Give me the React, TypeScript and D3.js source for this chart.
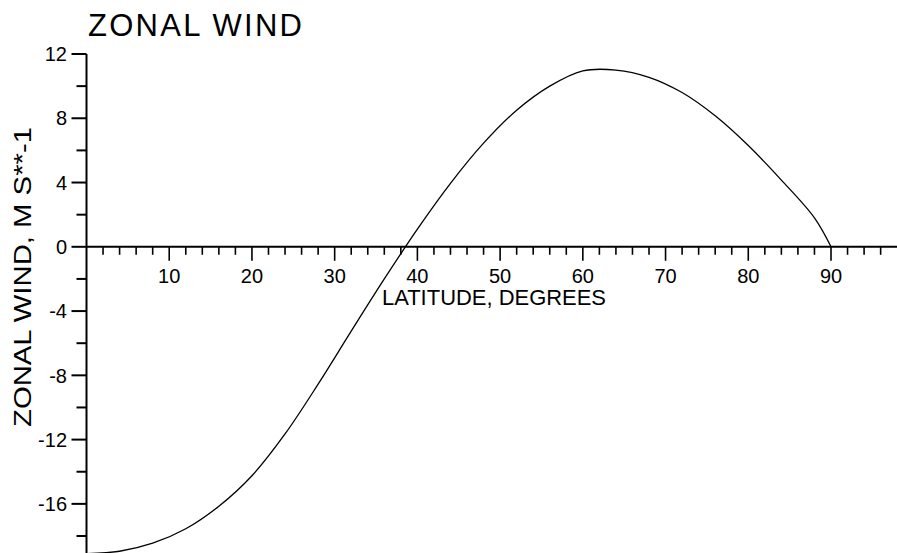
import React from "react";
import * as d3 from "d3";

const latitudes = [0, 4, 8, 12, 16, 20, 24, 28, 32, 36, 40, 44, 48, 52, 56, 60, 64, 68, 72, 76, 80, 84, 88, 90];
const zonalWind = [-19.1, -18.95, -18.45, -17.55, -16.15, -14.25, -11.65, -8.55, -5.25, -2.0, 1.1, 3.95, 6.45, 8.5, 10.0, 10.95, 11.0, 10.55, 9.6, 8.15, 6.3, 4.15, 1.8, 0];

const xTickLabels = [10, 20, 30, 40, 50, 60, 70, 80, 90];
const yTickLabels = [12, 8, 4, 0, -4, -8, -12, -16];

const W = 897;
const H = 553;
const FONT = "'Liberation Sans', Arial, Helvetica, sans-serif";

export default function App() {
  const x = d3.scaleLinear().domain([0, 90]).range([86.5, 831]);
  const y = d3.scaleLinear().domain([-18, 12]).range([536, 54]);

  const xMinor = d3.range(2, 98, 2);
  const yMinor = d3.range(-18, 13, 2);

  const line = d3
    .line<number>()
    .x((_, i) => x(latitudes[i]))
    .y((d) => y(d))
    .curve(d3.curveCatmullRom.alpha(0.5));

  const y0 = y(0);
  const x0 = x(0);

  return (
    <svg
      width={W}
      height={H}
      style={{ position: "absolute", left: 0, top: 0, background: "#fff", display: "block" }}
    >
      <rect x={0} y={0} width={W} height={H} fill="#fff" />
      <text x={88} y={36} fontFamily={FONT} fontSize={31} textLength={214} lengthAdjust="spacing" fill="#000">
        ZONAL WIND
      </text>

      {/* y axis */}
      <line x1={x0} x2={x0} y1={y(12)} y2={y(-19.2)} stroke="#000" strokeWidth={2} />
      {yMinor.map((v) => {
        const major = v % 4 === 0;
        return (
          <line key={"yt" + v} x1={x0 - (major ? 15 : 10)} x2={x0} y1={y(v)} y2={y(v)} stroke="#000" strokeWidth={2} />
        );
      })}
      {yTickLabels.map((v) => (
        <text key={"yl" + v} x={67} y={y(v)} dy="0.36em" textAnchor="end" fontFamily={FONT} fontSize={20} fill="#000">
          {String(v)}
        </text>
      ))}

      {/* x axis */}
      <line x1={x0} x2={W + 2} y1={y0} y2={y0} stroke="#000" strokeWidth={2} />
      {xMinor.map((v) => {
        const major = v % 10 === 0;
        return (
          <line key={"xt" + v} x1={x(v)} x2={x(v)} y1={y0} y2={y0 + (major ? 14 : 8)} stroke="#000" strokeWidth={1.6} />
        );
      })}
      {xTickLabels.map((v) => (
        <text key={"xl" + v} x={x(v)} y={283} textAnchor="middle" fontFamily={FONT} fontSize={20} fill="#000">
          {String(v)}
        </text>
      ))}

      <text x={382} y={305} fontFamily={FONT} fontSize={22} textLength={224} lengthAdjust="spacingAndGlyphs" fill="#000">
        LATITUDE, DEGREES
      </text>

      <text
        transform={`translate(31, 277) rotate(-90)`}
        textAnchor="middle"
        fontFamily={FONT}
        fontSize={23}
        textLength={300}
        lengthAdjust="spacingAndGlyphs"
        fill="#000"
      >
        ZONAL WIND, M S**-1
      </text>

      <path d={line(zonalWind) || ""} fill="none" stroke="#000" strokeWidth={1.3} />
    </svg>
  );
}
